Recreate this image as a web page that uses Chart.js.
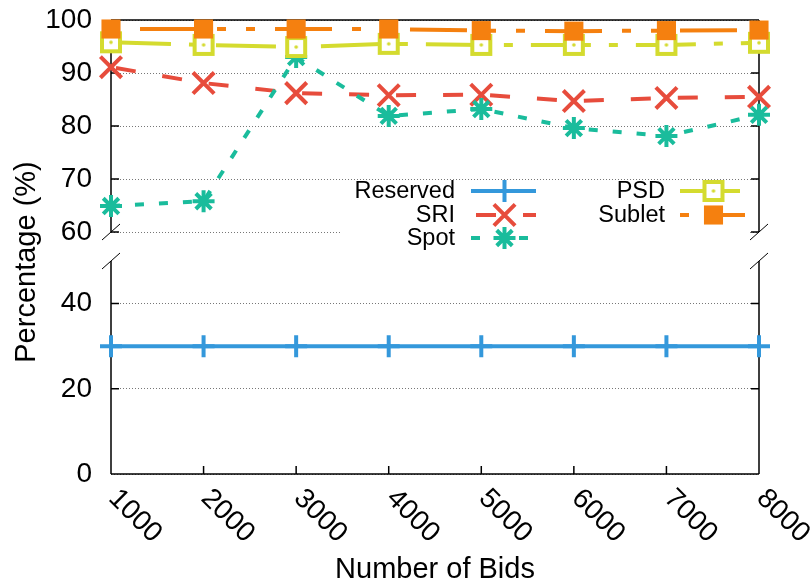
<!DOCTYPE html>
<html>
<head>
<meta charset="utf-8">
<script src="https://cdn.jsdelivr.net/npm/chart.js@4.4.1/dist/chart.umd.min.js"></script>
<style>
  html, body { margin: 0; padding: 0; background: #fff; }
  #wrap { width: 812px; height: 587px; }
</style>
</head>
<body>
<div id="wrap"><canvas id="myChart" width="812" height="587"></canvas></div>
<script>
// values
const bids = ['1000', '2000', '3000', '4000', '5000', '6000', '7000', '8000'];
const reserved = [30, 30, 30, 30, 30, 30, 30, 30];
const sri = [91.1, 88.1, 86.2, 85.8, 85.9, 84.7, 85.3, 85.5];
const spot = [64.9, 65.8, 93.0, 81.9, 83.2, 79.6, 78.1, 82.1];
const psd = [95.8, 95.3, 94.9, 95.5, 95.3, 95.3, 95.3, 95.7];
const sublet = [98.3, 98.3, 98.3, 98.3, 98.0, 97.9, 98.0, 98.1];
const lowTicks = [0, 20, 40];
const highTicks = [60, 70, 80, 90, 100];

const FONT = "'Liberation Sans', Arial, Helvetica, sans-serif";
const colors = {
    reserved: '#3498db',
    sri: '#e74c3c',
    spot: '#1abc9c',
    psd: '#d4db2f',
    sublet: '#f5800f'
};

function squareMark(color) {
    const c = document.createElement('canvas');
    c.width = 26;
    c.height = 26;
    const g = c.getContext('2d');
    g.fillStyle = '#fff';
    g.fillRect(5, 5, 16, 16);
    g.strokeStyle = color;
    g.lineWidth = 4;
    g.strokeRect(4, 4, 18, 18);
    g.fillStyle = color;
    g.beginPath();
    g.arc(13, 13, 1.8, 0, Math.PI * 2);
    g.fill();
    return c;
}

function series(label, data, color, axis, extra) {
    return Object.assign({
        label: label,
        data: data,
        yAxisID: axis,
        borderColor: color,
        backgroundColor: color,
        pointBorderColor: color,
        pointBackgroundColor: color,
        borderWidth: 4,
        pointBorderWidth: 4,
        tension: 0,
        clip: false,
        fill: false
    }, extra);
}

const datasets = [
    series('Reserved', reserved, colors.reserved, 'yLow', {pointStyle: 'cross', pointRadius: 11, order: 5}),
    series('SRI', sri, colors.sri, 'yHigh', {pointStyle: 'crossRot', pointRadius: 15, borderDash: [20, 27], borderDashOffset: 42, order: 4}),
    series('Spot', spot, colors.spot, 'yHigh', {pointStyle: 'star', pointRadius: 11, borderDash: [9, 15], order: 3}),
    series('PSD', psd, colors.psd, 'yHigh', {pointStyle: squareMark(colors.psd), pointRadius: 12, borderDash: [60, 18, 9, 18], order: 2}),
    series('Sublet', sublet, colors.sublet, 'yHigh', {pointStyle: 'rect', pointRadius: 13.5, pointBorderWidth: 0, borderDash: [57, 20, 9, 20, 9, 20], borderDashOffset: 106, order: 1})
];

// frame with broken y axis, inward ticks
const framePlugin = {
    id: 'frame',
    beforeDatasetsDraw(chart) {
        const {ctx, chartArea: a} = chart;
        const hi = chart.scales.yHigh;
        const lo = chart.scales.yLow;
        const xs = chart.scales.x;
        ctx.save();
        ctx.strokeStyle = '#000';
        ctx.lineWidth = 1.5;
        ctx.beginPath();
        ctx.moveTo(a.left, a.top); ctx.lineTo(a.right, a.top);
        ctx.moveTo(a.left, a.bottom); ctx.lineTo(a.right, a.bottom);
        [a.left, a.right].forEach(x => {
            ctx.moveTo(x, a.top); ctx.lineTo(x, hi.bottom);
            ctx.moveTo(x, lo.top); ctx.lineTo(x, a.bottom);
        });
        [hi, lo].forEach(s => {
            s.ticks.forEach(t => {
                const y = s.getPixelForValue(t.value);
                ctx.moveTo(a.left, y); ctx.lineTo(a.left + 8, y);
                ctx.moveTo(a.right, y); ctx.lineTo(a.right - 8, y);
            });
        });
        xs.ticks.forEach((t, i) => {
            const x = xs.getPixelForTick(i);
            ctx.moveTo(x, a.bottom); ctx.lineTo(x, a.bottom - 8);
        });
        ctx.stroke();
        ctx.lineWidth = 1;
        ctx.beginPath();
        [a.left, a.right].forEach(x => {
            [hi.bottom, lo.top].forEach(y => {
                ctx.moveTo(x - 9, y + 8); ctx.lineTo(x + 9, y - 8);
            });
        });
        ctx.stroke();
        ctx.restore();
    }
};

// gnuplot-style key: text right aligned, sample on its right
const keyPlugin = {
    id: 'key',
    afterDatasetsDraw(chart) {
        const {ctx} = chart;
        const slots = [
            {tx: 455, x0: 471, x1: 536, y: 191},
            {tx: 455, x0: 471, x1: 536, y: 215},
            {tx: 455, x0: 471, x1: 536, y: 238},
            {tx: 665, x0: 680, x1: 745, y: 191},
            {tx: 665, x0: 680, x1: 745, y: 215}
        ];
        ctx.save();
        ctx.fillStyle = '#fff';
        ctx.fillRect(340, 182, 410, 70);
        chart.data.datasets.forEach((ds, i) => {
            const s = slots[i];
            ctx.fillStyle = '#000';
            ctx.font = '23.5px ' + FONT;
            ctx.textAlign = 'right';
            ctx.textBaseline = 'middle';
            ctx.fillText(ds.label, s.tx, s.y + 1);
            ctx.strokeStyle = ds.borderColor;
            ctx.lineWidth = ds.borderWidth;
            ctx.setLineDash(ds.borderDash || []);
            ctx.lineDashOffset = ds.borderDashOffset || 0;
            ctx.beginPath();
            ctx.moveTo(s.x0, s.y);
            ctx.lineTo(s.x1, s.y);
            ctx.stroke();
            ctx.setLineDash([]);
            ctx.fillStyle = ds.pointBackgroundColor;
            ctx.strokeStyle = ds.pointBorderColor;
            ctx.lineWidth = ds.pointBorderWidth;
            Chart.helpers.drawPoint(ctx, {
                pointStyle: ds.pointStyle,
                radius: ds.pointRadius,
                rotation: 0,
                borderWidth: ds.pointBorderWidth
            }, (s.x0 + s.x1) / 2 + 1, s.y);
        });
        ctx.restore();
    }
};

// rotated x labels and the y title
const labelPlugin = {
    id: 'labels',
    afterDraw(chart) {
        const {ctx, chartArea: a} = chart;
        const xs = chart.scales.x;
        ctx.save();
        ctx.fillStyle = '#000';
        ctx.font = '28px ' + FONT;
        ctx.textAlign = 'left';
        ctx.textBaseline = 'middle';
        bids.forEach((b, i) => {
            ctx.save();
            ctx.translate(xs.getPixelForTick(i) + 2, a.bottom + 20);
            ctx.rotate(Math.PI / 4);
            ctx.fillText(b, 0, 0);
            ctx.restore();
        });
        ctx.font = '29px ' + FONT;
        ctx.textAlign = 'center';
        ctx.translate(27, 262);
        ctx.rotate(-Math.PI / 2);
        ctx.fillText('Percentage (%)', 0, 0);
        ctx.restore();
    }
};

// keep the left axes 111px wide and stop their labels from pushing the plot down
function fitLeft(s) {
    s.width = 111;
    s.paddingTop = 0;
    s.paddingBottom = 0;
}

const yTicks = {
    color: '#000',
    font: {family: FONT, size: 28},
    padding: 19,
    autoSkip: false
};
const yGrid = {color: '#777', lineWidth: 1, drawTicks: false};
const yBorder = {display: false, dash: [1, 2]};

const ctx = document.getElementById('myChart');
const chart = new Chart(ctx, {
    type: 'line',
    data: {labels: bids, datasets: datasets},
    options: {
        responsive: false,
        animation: false,
        devicePixelRatio: 1,
        layout: {autoPadding: false, padding: {top: 20, right: 53, left: 0, bottom: 0}},
        plugins: {legend: {display: false}, tooltip: {enabled: false}},
        scales: {
            x: {
                type: 'category',
                offset: false,
                grid: {display: false},
                border: {display: false},
                ticks: {display: false},
                title: {
                    display: true,
                    text: 'Number of Bids',
                    color: '#000',
                    font: {family: FONT, size: 29},
                    padding: {top: 0, bottom: 0}
                },
                afterFit: s => { s.height = 113; }
            },
            yLow: {
                type: 'linear',
                position: 'left',
                stack: 'pct',
                stackWeight: 213,
                min: 0,
                max: 50,
                ticks: yTicks,
                grid: yGrid,
                border: yBorder,
                afterBuildTicks: s => { s.ticks = lowTicks.map(v => ({value: v})); },
                afterFit: fitLeft
            },
            yGap: {
                type: 'linear',
                position: 'left',
                stack: 'pct',
                stackWeight: 29,
                min: 0,
                max: 1,
                ticks: {display: false},
                grid: {display: false},
                border: {display: false},
                afterFit: fitLeft
            },
            yHigh: {
                type: 'linear',
                position: 'left',
                stack: 'pct',
                stackWeight: 212,
                min: 60,
                max: 100,
                ticks: yTicks,
                grid: yGrid,
                border: yBorder,
                afterBuildTicks: s => { s.ticks = highTicks.map(v => ({value: v})); },
                afterFit: fitLeft
            }
        }
    },
    plugins: [framePlugin, keyPlugin, labelPlugin]
});
</script>
</body>
</html>
